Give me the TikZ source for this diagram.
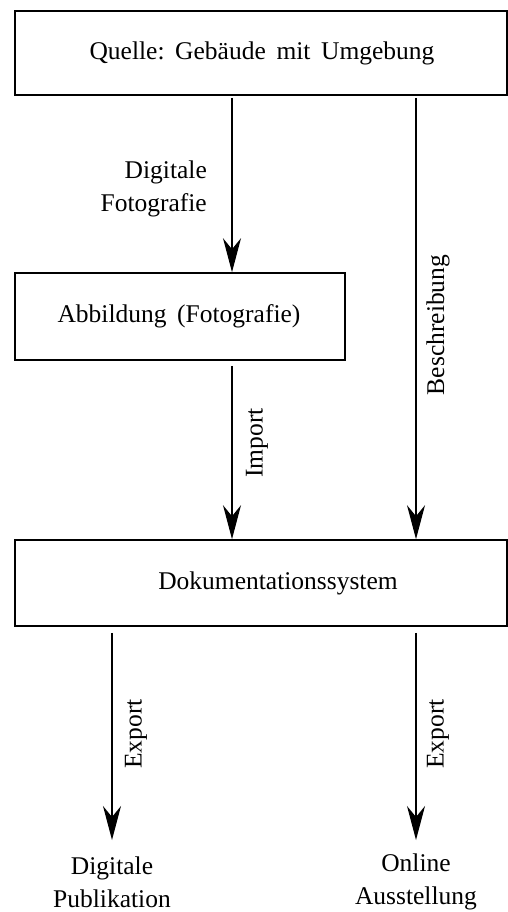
\documentclass[tikz,border=0pt]{standalone}
\usepackage{fontspec}
\setmainfont{Liberation Serif}
\usetikzlibrary{arrows.meta}
\begin{document}
\begin{tikzpicture}[x=1pt,y=-1pt,
  box/.style={draw, line width=1.6pt, inner sep=0pt},
  lbl/.style={font=\fontsize{25.5}{33}\selectfont, inner sep=0pt, align=center},
  arr/.style={line width=1.4pt, -{Stealth[length=34pt,width=18pt,inset=11pt]}}]
\useasboundingbox (0,0) rectangle (508,912);
\fill[white] (0,0) rectangle (508,912);
% boxes
\node[box, minimum width=492pt, minimum height=84pt] (top) at (261,53) {};
\node[lbl] (toptxt) at (262,53) {Quelle:\ \,Gebäude\ \,mit\ \,Umgebung};
\node[box, minimum width=330pt, minimum height=87pt] (abb) at (180,316.5) {};
\node[lbl] (abbtxt) at (179,316.5) {Abbildung\ \,(Fotografie)};
\node[box, minimum width=492pt, minimum height=86pt] (doc) at (261,583) {};
\node[lbl] (doctxt) at (278,583) {Dokumentationssystem};
% bottom targets
\node[lbl] (pub) at (112,882) {Digitale\\Publikation};
\node[lbl] (aus) at (416,882) {Online\\Ausstellung};
% columns
\coordinate (cA) at (232,0);
\coordinate (cB) at (416,0);
\coordinate (cC) at (112,0);
\coordinate (pubtop) at (112,840);
\coordinate (austop) at (416,840);
% connectors
\draw[arr] ([yshift=-2pt]top.south -| cA) -- (abb.north -| cA);
\draw[arr] ([yshift=-2pt]top.south -| cB) -- (doc.north -| cB);
\draw[arr] ([yshift=-5pt]abb.south -| cA) -- (doc.north -| cA);
\draw[arr] ([yshift=-6pt]doc.south -| cC) -- (pubtop);
\draw[arr] ([yshift=-6pt]doc.south -| cB) -- (austop);
% labels
\node[lbl, align=right, anchor=east] (lfoto) at (207,189) {Digitale\\Fotografie};
\node[lbl, rotate=90] (limp) at (257,443) {Import};
\node[lbl, rotate=90] (lbes) at (438,325) {Beschreibung};
\node[lbl, rotate=90] (lex1) at (136,734) {Export};
\node[lbl, rotate=90] (lex2) at (438,734) {Export};
\end{tikzpicture}
\end{document}
